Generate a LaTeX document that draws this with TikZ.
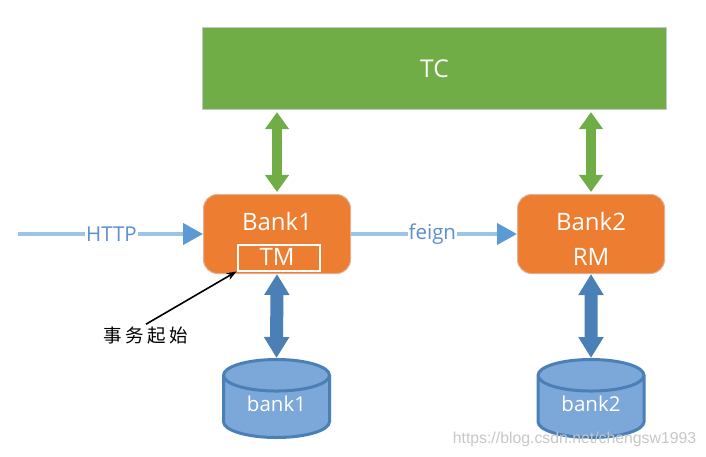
\documentclass[tikz,border=0pt]{standalone}
\usepackage{fontspec}
\setmainfont{Open Sans}
\newfontfamily\cjkfont{Noto Sans CJK SC}
\newfontfamily\wmfont{Liberation Sans}
\usetikzlibrary{arrows.meta,positioning,calc,shapes.geometric}
\definecolor{tcgreen}{HTML}{70AD47}
\definecolor{bankorange}{HTML}{ED7D31}
\definecolor{dbblue}{HTML}{7BA7D9}
\definecolor{dbline}{HTML}{4A80B5}
\definecolor{httpline}{HTML}{9DC3E6}
\definecolor{httphead}{HTML}{5B9BD5}
\definecolor{labelblue}{HTML}{5B8FD0}
\newcommand{\banktop}{\rule{0pt}{28pt}}
\begin{document}
\begin{tikzpicture}[
    x=1pt, y=-1pt,
    tcbox/.style={draw=black!22, line width=1.2pt, fill=tcgreen, minimum width=464pt, minimum height=82pt, text=white, font=\fontsize{24.5}{28}\selectfont},
    bankbox/.style={draw=bankorange!70!gray!60, line width=1pt, rounded corners=14pt, fill=bankorange, minimum width=147pt, minimum height=79pt, align=center, text=white, font=\fontsize{24}{35}\selectfont},
    tmbox/.style={draw=white, line width=2pt, minimum width=82pt, minimum height=26pt},
    dbnode/.style={cylinder, anchor=shape center, shape border rotate=90, aspect=0.48, draw=dbline, line width=3pt, fill=dbblue, minimum width=106pt, minimum height=78pt, text=white, text depth=12pt, font=\fontsize{20.5}{24}\selectfont},
    tcarrow/.style={{Triangle[length=17pt,width=23pt]}-{Triangle[length=17pt,width=23pt]}, line width=10pt, color=tcgreen},
    dbarrow/.style={{Triangle[length=21pt,width=24pt]}-{Triangle[length=21pt,width=24pt]}, line width=13pt, color=dbline},
    callarrow/.style={-{Triangle[length=20pt,width=21pt,fill=httphead,color=httphead]}, line width=4pt, color=httpline},
    calllabel/.style={fill=white, inner sep=1pt, text=labelblue, font=\fontsize{20.5}{24}\selectfont},
]
\useasboundingbox (0,0) rectangle (706,457);
\node[tcbox] (tc) at (434.5,68.5) {TC};
\node[bankbox] (bank1) at (277,234) {\banktop Bank1\\TM};
\node[bankbox] (bank2) at (591,234) {\banktop Bank2\\RM};
\node[tmbox] (tm) at (278.5,257.5) {};
\node[dbnode] (db1) at (276.5,398.5) {bank1};
\node[dbnode] (db2) at (591,398.5) {bank2};
\coordinate (client) at (18,234);
\node[font=\cjkfont\fontsize{18.5}{22}\selectfont, inner sep=0pt] (txstart) at (146,336) {事\hspace{3.5pt}务\hspace{3.5pt}起\hspace{3.5pt}始};
\node[text=black!22, font=\wmfont\fontsize{15.8}{18}\selectfont, inner sep=0pt] (mark) at (574.5,439) {https://blog.csdn.net/chengsw1993};

\draw[tcarrow] (bank1.north |- tc.south) ++(0,2) -- ($(bank1.north)+(0,-2)$);
\draw[tcarrow] (bank2.north |- tc.south) ++(0,2) -- ($(bank2.north)+(0,-2)$);
\draw[dbarrow] (bank1.south) -- (db1.north);
\draw[dbarrow] (bank2.south) -- (db2.north);
\draw[callarrow] (client) -- node[calllabel, pos=0.505] {HTTP} (bank1.west);
\draw[callarrow] (bank1.east) -- node[calllabel, pos=0.49] {feign} (bank2.west);
\draw[-{Stealth[length=10pt]}, line width=1.6pt] (txstart.north) ++(0,-3) -- (tm.south west);
\end{tikzpicture}
\end{document}
